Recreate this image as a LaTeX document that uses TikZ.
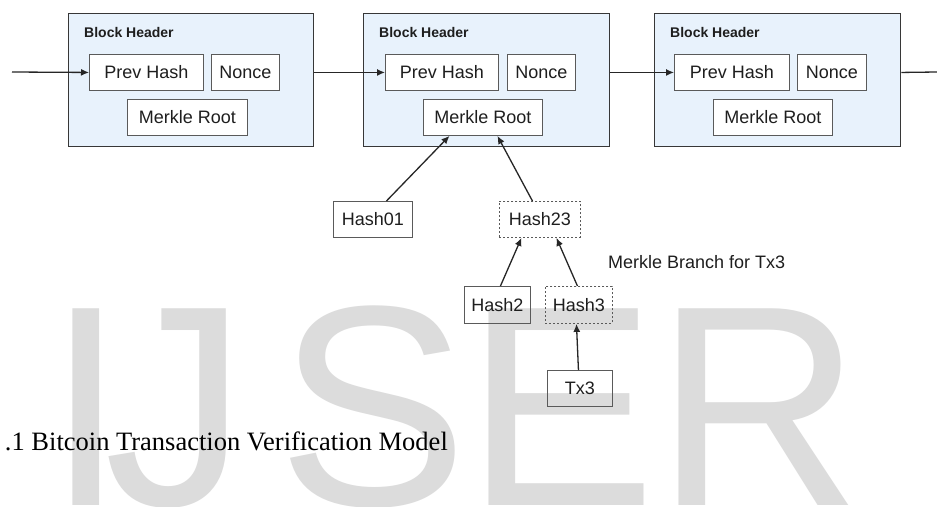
\documentclass[tikz,border=0pt]{standalone}
\usepackage{fontspec}
\setmainfont{Liberation Sans}
\newfontfamily\capfont{Liberation Serif}
\usetikzlibrary{arrows.meta}
\definecolor{blockfill}{RGB}{232,242,252}
\definecolor{wmgray}{RGB}{220,220,220}
\definecolor{edgegray}{RGB}{55,55,55}
\definecolor{boxgray}{RGB}{90,90,90}
\definecolor{txtcol}{RGB}{30,30,30}
\begin{document}
\begin{tikzpicture}[x=1pt,y=-1pt,
  blockbox/.style={draw=edgegray, line width=1.4pt, fill=blockfill, anchor=north west, inner sep=0},
  fieldbox/.style={draw=boxgray, line width=0.9pt, fill=white, anchor=north west, inner sep=0, text=txtcol, font=\fontsize{18}{20}\selectfont},
  hashbox/.style={draw=boxgray, line width=0.9pt, anchor=north west, inner sep=0, text=txtcol, font=\fontsize{18}{20}\selectfont},
  branchbox/.style={hashbox, dash pattern=on 2pt off 2pt},
  hdr/.style={font=\bfseries\fontsize{14}{16}\selectfont, anchor=west, inner sep=0, text=txtcol},
  link/.style={-{Latex[length=8pt,width=7pt]}, line width=1.3pt, black!85},
  plainlink/.style={line width=1.3pt, black!85}
]
\useasboundingbox (0,0) rectangle (937,506);
\fill[white] (0,0) rectangle (937,506);

% watermark
\node[anchor=base west, inner sep=0, text=wmgray, font=\fontsize{286}{290}\selectfont] (wm) at (46.3,505)
  {I\kern-21.8pt J\kern30pt S\kern-2.8pt ER};

% blocks
\node[blockbox, minimum width=245pt, minimum height=133pt] (block1) at (68,13) {};
\node[blockbox, minimum width=246pt, minimum height=133pt] (block2) at (363,13) {};
\node[blockbox, minimum width=246pt, minimum height=133pt] (block3) at (654,13) {};

\node[hdr] (hd1) at (84,32) {Block Header};
\node[hdr] (hd2) at (379,32) {Block Header};
\node[hdr] (hd3) at (670,32) {Block Header};

\node[fieldbox, minimum width=114pt, minimum height=36pt] (ph1) at (89,54) {Prev Hash};
\node[fieldbox, minimum width=68pt, minimum height=36pt] (nc1) at (211,54) {Nonce};
\node[fieldbox, minimum width=120pt, minimum height=36pt] (mr1) at (127,99) {Merkle Root};

\node[fieldbox, minimum width=113pt, minimum height=36pt] (ph2) at (385,54) {Prev Hash};
\node[fieldbox, minimum width=68pt, minimum height=36pt] (nc2) at (507,54) {Nonce};
\node[fieldbox, minimum width=119pt, minimum height=36pt] (mr2) at (423,99) {Merkle Root};

\node[fieldbox, minimum width=115pt, minimum height=36pt] (ph3) at (674,54) {Prev Hash};
\node[fieldbox, minimum width=69pt, minimum height=36pt] (nc3) at (797,54) {Nonce};
\node[fieldbox, minimum width=119pt, minimum height=36pt] (mr3) at (713,99) {Merkle Root};

% chain links
\coordinate (chainin) at (12,72);
\coordinate (chainout) at (937,72);
\draw[link] (chainin) -- (ph1.west);
\draw[link] (block1.east |- ph2.west) -- (ph2.west);
\draw[link] (block2.east |- ph3.west) -- (ph3.west);
\draw[plainlink] (block3.east |- ph3.west) -- (chainout);

% merkle tree
\node[hashbox, minimum width=79pt, minimum height=36pt] (h01) at (333,201) {Hash01};
\node[branchbox, minimum width=81pt, minimum height=36pt] (h23) at (499,201) {Hash23};
\node[hashbox, minimum width=66pt, minimum height=37pt] (h2) at (464,286) {Hash2};
\node[branchbox, minimum width=67pt, minimum height=37pt] (h3) at (545,286) {Hash3};
\node[hashbox, minimum width=65pt, minimum height=36pt] (tx3) at (547,370) {Tx3};

\draw[link] ([xshift=13.5pt]h01.north) -- ([xshift=-33.5pt]mr2.south);
\draw[link] ([xshift=-7.5pt]h23.north) -- ([xshift=14.5pt]mr2.south);
\draw[link] ([xshift=3pt]h2.north) -- ([xshift=-18.5pt]h23.south);
\draw[link] ([xshift=-1.5pt]h3.north) -- ([xshift=16.5pt]h23.south);
\draw[link] ([xshift=-1.5pt]tx3.north) -- ([xshift=-2.5pt]h3.south);

\node[anchor=west, inner sep=0, text=txtcol, font=\fontsize{18}{20}\selectfont] (mb) at (608,262) {Merkle Branch for Tx3};

% caption
\node[anchor=base east, inner sep=0, text=black, font=\capfont\fontsize{26.5}{30}\selectfont] (cap) at (448,450)
  {.1 Bitcoin Transaction Verification Model};
\end{tikzpicture}
\end{document}
